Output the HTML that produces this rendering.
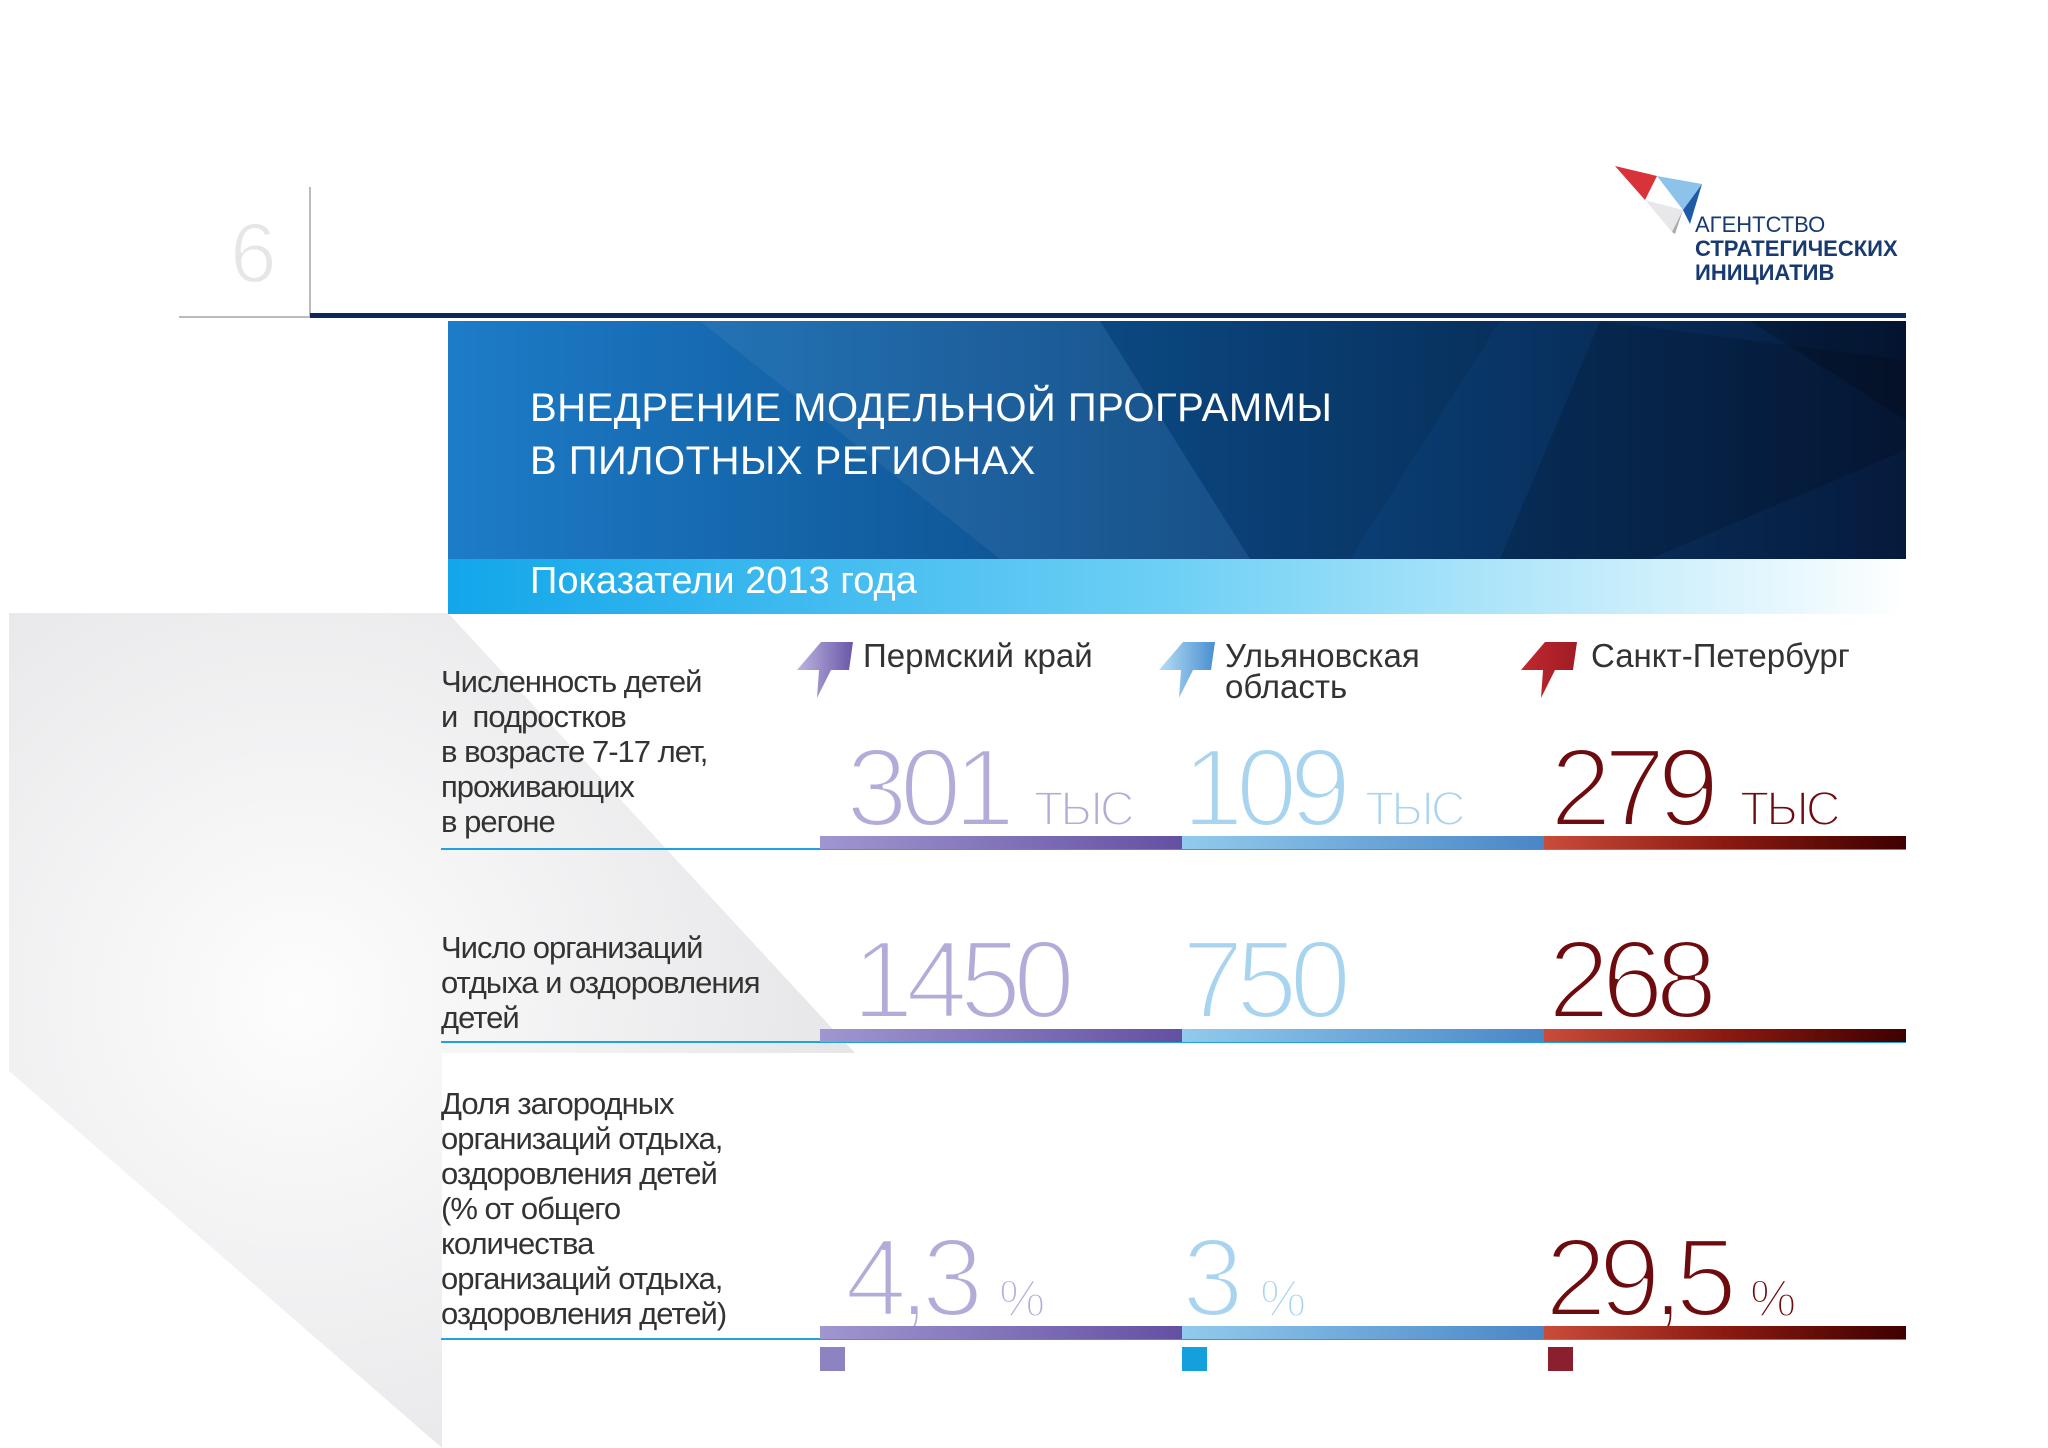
<!DOCTYPE html>
<html><head><meta charset="utf-8"><style>
body{margin:0;background:#fff}
#page{position:relative;width:2048px;height:1448px;overflow:hidden;background:#fff;font-family:"Liberation Sans","DejaVu Sans",sans-serif}
.abs{position:absolute;white-space:nowrap}
.lbl{position:absolute;left:441px;font-size:31px;color:#333;line-height:35px;letter-spacing:-1px}
</style></head><body>
<div id="page">
<svg class="abs" style="left:0;top:0" width="2048" height="1448">
<defs>
<radialGradient id="gg" cx="300" cy="1000" r="650" gradientUnits="userSpaceOnUse"><stop offset="0" stop-color="#fdfdfd"/><stop offset="1" stop-color="#e2e2e5"/></radialGradient>
<linearGradient id="ban" x1="0" y1="0" x2="1" y2="0"><stop offset="0" stop-color="#1d7cc8"/><stop offset="0.5" stop-color="#0b4a86"/><stop offset="1" stop-color="#061a3c"/></linearGradient>
<linearGradient id="strip" x1="0" y1="0" x2="1" y2="0"><stop offset="0" stop-color="#12a6ea"/><stop offset="0.5" stop-color="#6fd0f5"/><stop offset="1" stop-color="#ffffff"/></linearGradient>
</defs>
<polygon points="9,613 448,613 855,1053 442,1053 442,1448 9,1071" fill="url(#gg)"/>
<rect x="448" y="321" width="1458" height="238" fill="url(#ban)"/>
<polygon points="700,321 1100,321 1250,559 1000,559" fill="#ffffff" opacity="0.06"/>
<polygon points="1100,321 1500,321 1350,559 1250,559" fill="#000" opacity="0.08"/>
<polygon points="1600,321 1906,360 1906,450 1650,559 1500,559" fill="#000" opacity="0.15"/>
<polygon points="1750,321 1906,321 1906,420" fill="#000" opacity="0.2"/>
<rect x="448" y="559" width="1458" height="55" fill="url(#strip)"/>
<line x1="310" y1="187" x2="310" y2="316" stroke="#bbb" stroke-width="2"/>
<line x1="179" y1="317" x2="310" y2="317" stroke="#bbb" stroke-width="2"/>
<rect x="310" y="313" width="1596" height="5" fill="#0c2a55"/>
<g>
<polygon points="1615,166 1657,176 1645,200" fill="#d9333a"/>
<polygon points="1657,176 1702,184 1683,210" fill="#8dc3ea"/>
<polygon points="1702,184 1683,210 1690,224" fill="#1f5aa8"/>
<polygon points="1645,200 1683,210 1672,232" fill="#e8e8ea"/>
<polygon points="1683,210 1672,232 1675,234" fill="#aaa"/>
</g>
</svg>
<div class="abs" style="left:230px;top:205px;font-size:84px;color:#e6e6e6;-webkit-text-stroke:2px #fff">6</div>
<div class="abs" style="left:1695px;top:213px;font-size:22px;color:#173a70;line-height:24px">АГЕНТСТВО<br><b>СТРАТЕГИЧЕСКИХ<br>ИНИЦИАТИВ</b></div>
<div class="abs" style="left:530px;top:382px;font-size:40px;color:#fff;line-height:53px;letter-spacing:0.5px">ВНЕДРЕНИЕ МОДЕЛЬНОЙ ПРОГРАММЫ<br>В ПИЛОТНЫХ РЕГИОНАХ</div>
<div class="abs" style="left:530px;top:558px;font-size:38px;color:#fff;line-height:46px">Показатели 2013 года</div>

<div class="lbl" style="top:664px">Численность детей<br>и&nbsp; подростков<br>в возрасте 7-17 лет,<br>проживающих<br>в регоне</div>
<div class="lbl" style="top:930px">Число организаций<br>отдыха и оздоровления<br>детей</div>
<div class="lbl" style="top:1086px">Доля загородных<br>организаций отдыха,<br>оздоровления детей<br>(% от общего<br>количества<br>организаций отдыха,<br>оздоровления детей)</div>
</div>
<script>
const regions=["Пермский край","Ульяновская<br>область","Санкт-Петербург"];
const children=["301","109","279"];
const orgs=["1450","750","268"];
const share=["4,3","3","29,5"];
const childUnit="ТЫС", shareUnit="%";
const colX=[820,1182,1544];
const lightCol=["#b3acd9","#a8d4f0","#6e0b0e"];
const barGrad=["linear-gradient(90deg,#a096d0,#6450a2)","linear-gradient(90deg,#92caec,#4a86c6)","linear-gradient(90deg,#c84c3a,#8a1a10 50%,#3e0000)"];
const iconGrad=[["#bdb5e0","#6a56a8"],["#b5def5","#4a8fd0"],["#c0282e","#a01c24"]];
const sq=["#8d83c2","#14a0dc","#8c1f2e"];
const rowLine=[849,1042,1339];
const pg=document.getElementById('page');
const numCss='position:absolute;font-size:111px;letter-spacing:-8px;line-height:1;-webkit-text-stroke:4px #fff;paint-order:normal;';
const unitCss='position:absolute;line-height:1;-webkit-text-stroke:2px #fff;';
function mk(tag,name,css,html){const e=document.createElement(tag);

e.style.cssText=css;if(html!==undefined)e.innerHTML=html;pg.appendChild(e);return e;}
colX.forEach((x,i)=>{
 const ic=mk('div','region-icon','position:absolute;left:'+(x-23)+'px;top:640px;width:56px;height:60px');
 ic.innerHTML='<svg width="56" height="60"><defs><linearGradient id="ig'+i+'" x1="0" x2="1"><stop offset="0" stop-color="'+iconGrad[i][0]+'"/><stop offset="1" stop-color="'+iconGrad[i][1]+'"/></linearGradient></defs><polygon points="0,30 24,2 56,2 52,30 34,30 20,58 22,30" fill="url(#ig'+i+')"/></svg>';
 mk('div','region-name','position:absolute;left:'+(x+43+(i==2?4:0))+'px;top:640px;font-size:33px;color:#333;line-height:31px;white-space:nowrap',regions[i]);
 mk('div','children-value',numCss+'left:'+(x+[26,0,6][i])+'px;top:733px;color:'+lightCol[i],children[i]);
 mk('div','children-unit',unitCss+'font-size:48px;letter-spacing:-3px;left:'+(x+[214,183,196][i])+'px;top:786px;color:'+lightCol[i],childUnit);
 mk('div','orgs-value',numCss+'left:'+(x+[32,0,4][i])+'px;top:925px;color:'+lightCol[i],orgs[i]);
 mk('div','share-value',numCss+'left:'+(x+[25,0,1][i])+'px;top:1223px;color:'+lightCol[i],share[i]);
 mk('div','share-unit',unitCss+'font-size:52px;left:'+(x+[179,78,206][i])+'px;top:1273px;color:'+lightCol[i],shareUnit);
 mk('div','legend-square','position:absolute;left:'+(x+(i==2?4:0))+'px;top:1347px;width:25px;height:24px;background:'+sq[i]);
});
rowLine.forEach((y,r)=>{
 mk('div','row-line','position:absolute;left:441px;top:'+(y-1)+'px;width:1465px;height:2px;background:#1fa3dc');
 colX.forEach((x,i)=>{mk('div','value-bar','position:absolute;left:'+x+'px;top:'+(y-13)+'px;width:362px;height:13px;background:'+barGrad[i]);});
});
</script>
</body></html>
